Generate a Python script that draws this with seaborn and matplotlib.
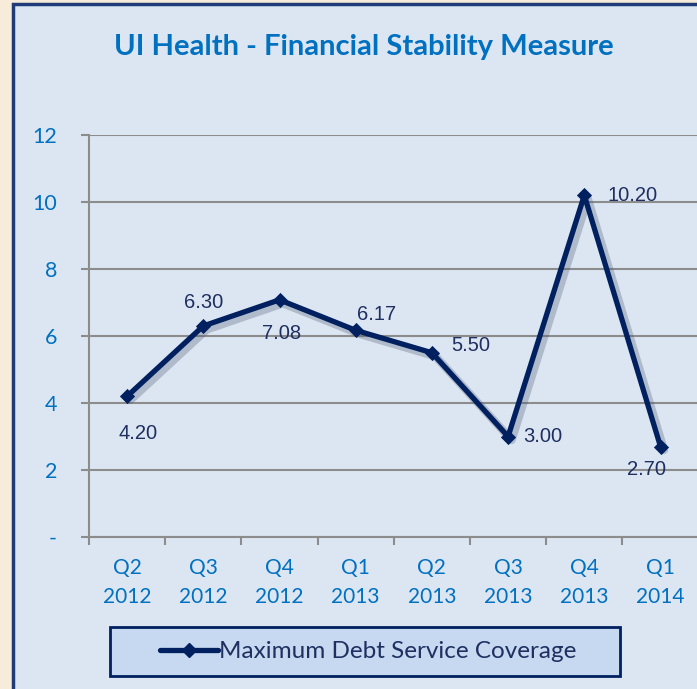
import matplotlib
matplotlib.use('Agg')
import matplotlib.pyplot as plt
import matplotlib.patheffects as pe
from matplotlib.patches import Rectangle
from matplotlib.lines import Line2D
import numpy as np
import pandas as pd
import seaborn as sns

# Data
quarters = ['Q2\n2012', 'Q3\n2012', 'Q4\n2012', 'Q1\n2013',
            'Q2\n2013', 'Q3\n2013', 'Q4\n2013', 'Q1\n2014']
coverage = [4.20, 6.30, 7.08, 6.17, 5.50, 3.00, 10.20, 2.70]
y_ticks = [0, 2, 4, 6, 8, 10, 12]
y_tick_labels = ['-', '2', '4', '6', '8', '10', '12']
series_name = 'Maximum Debt Service Coverage'

# label offsets (points) and alignment per data point
label_offsets = [(8, -27), (0, 17), (1.5, -24), (15, 11.5),
                 (14, 5), (11, 0), (17, 0), (-10, -16.5)]
label_ha = ['center', 'center', 'center', 'center',
            'left', 'left', 'left', 'center']

sns.set_style('white')
plt.rcParams['font.family'] = ['Lato', 'DejaVu Sans']

BEIGE = '#F7ECDA'
PANEL = '#DCE6F2'
BORDER = '#1F3C78'
NAVY = '#002060'
TICK_BLUE = '#0070C0'
GRID = '#8C8C8C'

df = pd.DataFrame({'pos': np.arange(len(quarters)), 'value': coverage})

fig = plt.figure(figsize=(6.97, 6.89), dpi=100)
fig.patch.set_facecolor(BEIGE)

# chart area panel with dark border
W, H = 697, 689
panel = Rectangle((13 / W, -0.05), 1.0, 1 - 4 / H + 0.05, transform=fig.transFigure,
                  facecolor=PANEL, edgecolor=BORDER, linewidth=2.5, zorder=-10)
fig.patches.append(panel)

ax = fig.add_axes([89 / W, 1 - 537 / H, 609.6 / W, 402 / H])
ax.set_facecolor('none')

# line with a soft drop shadow, then the diamond markers on top
sns.lineplot(data=df, x='pos', y='value', ax=ax, color=NAVY, linewidth=3.8, legend=False,
             path_effects=[pe.SimpleLineShadow(offset=(2.5, -2.5), shadow_color='#4a5570',
                                               alpha=0.3, linewidth=6),
                           pe.Normal()])
sns.scatterplot(data=df, x='pos', y='value', ax=ax, marker='D', s=60, color=NAVY,
                edgecolor=NAVY, linewidth=0, legend=False, zorder=3)

for i, v in enumerate(coverage):
    ax.annotate(f'{v:.2f}', (i, v), xytext=label_offsets[i], textcoords='offset points',
                ha=label_ha[i], va='center', fontsize=14.5, color='#1F2F60',
                family='Liberation Sans')

ax.set_xlim(-0.5, len(quarters) - 0.5)
ax.set_ylim(0, 12)

# y axis
ax.set_yticks(y_ticks)
ax.set_yticklabels(y_tick_labels)
ax.tick_params(axis='y', length=6, width=1.5, color=GRID, pad=17,
               labelsize=15.5, labelcolor=TICK_BLUE, left=True)
ax.yaxis.grid(True, color=GRID, linewidth=1.5)
ax.set_axisbelow(True)

# x axis: ticks at category boundaries, labels at centres
ax.set_xticks(np.arange(-0.5, len(quarters) - 0.5, 1.0))
ax.set_xticklabels([])
ax.tick_params(axis='x', which='major', length=6, width=1.5, color=GRID, bottom=True)
ax.set_xticks(np.arange(len(quarters)), minor=True)
ax.set_xticklabels(quarters, minor=True, linespacing=1.55)
ax.tick_params(axis='x', which='minor', length=0, pad=15, labelsize=15, labelcolor=TICK_BLUE)

for side in ['top', 'right']:
    ax.spines[side].set_visible(False)
for side in ['left', 'bottom']:
    ax.spines[side].set_color(GRID)
    ax.spines[side].set_linewidth(1.5)
ax.set_xlabel('')
ax.set_ylabel('')

fig.text(364 / W, 1 - 46.5 / H, 'UI Health - Financial Stability Measure',
         ha='center', va='center', fontsize=21, fontweight='bold', color=TICK_BLUE)

# legend box
box = Rectangle((110 / W, 1 - 676 / H), 510 / W, 49 / H, transform=fig.transFigure,
                facecolor='#C6D9F1', edgecolor=NAVY, linewidth=2, zorder=1)
fig.patches.append(box)
handle = Line2D([], [], color=NAVY, linewidth=3.8, marker='D', markersize=7)
fig.legend([handle], [series_name], loc='center', bbox_to_anchor=(368 / W, 1 - 651.5 / H),
           frameon=False, fontsize=17.5, handlelength=2.4, handletextpad=0.05,
           labelcolor='#1F2F60')

fig.savefig('out.png', dpi=100, facecolor=fig.get_facecolor())
